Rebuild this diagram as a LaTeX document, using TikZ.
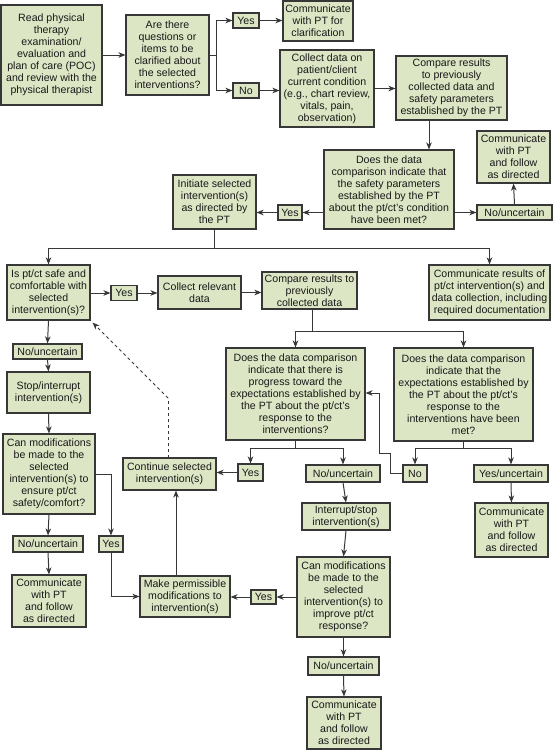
\documentclass[tikz,border=0pt]{standalone}
\usepackage{fontspec}
\setmainfont{Liberation Sans}
\usetikzlibrary{arrows.meta,calc}
\definecolor{boxfill}{RGB}{220,230,196}
\definecolor{linecol}{RGB}{55,55,55}
\tikzset{
  box/.style={draw=linecol, line width=1.1pt, fill=boxfill, inner sep=0pt, align=center,
    font=\fontsize{10.6}{12}\selectfont, text=black!90},
  arr/.style={draw=linecol, line width=1pt, -{Stealth[length=7pt,width=5.5pt,inset=2pt]}},
  ln/.style={draw=linecol, line width=1pt},
}
\newcommand{\bx}[6]{\node[box, minimum width=#4pt, minimum height=#5pt] (#1) at (#2,#3) {#6};}
\begin{document}
\begin{tikzpicture}[x=1pt,y=-1pt]
\useasboundingbox (0,0) rectangle (553,750);
% top row
\bx{read}{51.5}{55}{101}{100}{Read physical\\therapy\\examination/\\evaluation and\\plan of care (POC)\\and review with the\\physical therapist}
\bx{q1}{167.5}{55}{83}{80}{Are there\\questions or\\items to be\\clarified about\\the selected\\interventions?}
\bx{yes1}{246}{20.5}{26}{15}{Yes}
\bx{no1}{246}{90.5}{26}{15}{No}
\bx{commclar}{318}{21}{70}{40}{Communicate\\with PT for\\clarification}
\bx{collect}{327}{88.5}{94}{77}{Collect data on\\patient/client\\current condition\\(e.g., chart review,\\vitals, pain,\\observation)}
\bx{compare1}{451.5}{88}{111}{64}{Compare results\\to previously\\collected data and\\safety parameters\\established by the PT}
\bx{safety}{389}{189.5}{130}{79}{Does the data\\comparison indicate that\\the safety parameters\\established by the PT\\about the pt/ct's condition\\have been met?}
\bx{comm1}{513.5}{157}{73}{52}{Communicate\\with PT\\and follow\\as directed}
\bx{nounc1}{514.5}{212.5}{75}{15}{No/uncertain}
\bx{yes2}{290}{212.5}{24}{15}{Yes}
\bx{initiate}{214.5}{202}{83}{54}{Initiate selected\\intervention(s)\\as directed by\\the PT}
% middle
\bx{safe}{48.5}{292.5}{83}{55}{Is pt/ct safe and\\comfortable with\\selected\\intervention(s)?}
\bx{yes3}{124}{293}{26}{15}{Yes}
\bx{collrel}{199.5}{292.5}{83}{33}{Collect relevant\\data}
\bx{compare2}{309.5}{290.5}{95}{37}{Compare results to\\previously\\collected data}
\bx{commres}{489.5}{292.5}{121}{55}{Communicate results of\\pt/ct intervention(s) and\\data collection, including\\required documentation}
\bx{nounc2}{47.5}{351.5}{69}{15}{No/uncertain}
\bx{stop}{48.5}{392.5}{83}{41}{Stop/interrupt\\intervention(s)}
\bx{canmodA}{49}{474}{92}{80}{Can modifications\\be made to the\\selected\\intervention(s) to\\ensure pt/ct\\safety/comfort?}
\bx{nounc3}{48}{544}{70}{16}{No/uncertain}
\bx{yes4}{111}{544}{24}{16}{Yes}
\bx{comm3}{49}{601}{74}{52}{Communicate\\with PT\\and follow\\as directed}
\bx{progress}{295.5}{394}{139}{92}{Does the data comparison\\indicate that there is\\progress toward the\\expectations established by\\the PT about the pt/ct's\\response to the\\interventions?}
\bx{met}{463.5}{394.5}{139}{93}{Does the data comparison\\indicate that the\\expectations established by\\the PT about the pt/ct's\\response to the\\interventions have been\\met?}
\bx{yes5}{250.5}{472.5}{25}{17}{Yes}
\bx{continue}{169.5}{474}{93}{32}{Continue selected\\intervention(s)}
\bx{nounc4}{343}{473.5}{74}{17}{No/uncertain}
\bx{no2}{415}{473.5}{24}{17}{No}
\bx{yesunc}{511}{473.5}{74}{17}{Yes/uncertain}
\bx{comm4}{511.5}{530}{73}{54}{Communicate\\with PT\\and follow\\as directed}
\bx{interrupt}{346}{516.5}{88}{27}{Interrupt/stop\\intervention(s)}
\bx{canmodB}{343.5}{597}{93}{80}{Can modifications\\be made to the\\selected\\intervention(s) to\\improve pt/ct\\response?}
\bx{yes6}{263.5}{597}{25}{14}{Yes}
\bx{make}{185}{596.5}{90}{41}{Make permissible\\modifications to\\intervention(s)}
\bx{nounc5}{343.5}{666}{71}{18}{No/uncertain}
\bx{comm5}{344}{723}{74}{52}{Communicate\\with PT\\and follow\\as directed}

% connectors top
\draw[arr] (read.east) -- (q1.west);
\coordinate (b1) at (216,55);
\draw[ln] (q1.east) -- (b1);
\draw[arr] (b1) |- (yes1.west);
\draw[arr] (b1) |- (no1.west);
\draw[arr] (yes1.east) -- (yes1.east -| commclar.west);
\draw[arr] (no1.east) -- (no1.east -| collect.west);
\draw[arr] (collect.east) -- (collect.east -| compare1.west);
\draw[arr] ([xshift=-22.5pt]compare1.south) -- ([xshift=-22.5pt]compare1.south |- safety.north);
\draw[arr] (nounc1.west -| safety.east) -- (nounc1.west);
\draw[arr] (nounc1.north) -- (comm1.south);
\draw[arr] (yes2.east -| safety.west) -- (yes2.east);
\draw[arr] (yes2.west) -- (yes2.west -| initiate.east);
\coordinate (b2) at (214.5,248);
\draw[ln] (initiate.south) -- (b2);
\draw[arr] (b2) -| (safe.north);
\draw[arr] (b2) -| (commres.north);
% middle
\draw[arr] (safe.east |- yes3.west) -- (yes3.west);
\draw[arr] (yes3.east) -- (yes3.east -| collrel.west);
\draw[arr] (collrel.east) -- (collrel.east -| compare2.west);
\draw[arr] (safe.south) -- (nounc2.north);
\draw[arr] (nounc2.south) -- (stop.north);
\draw[arr] (stop.south) -- (canmodA.north);
\draw[arr] (canmodA.south) -- (nounc3.north);
\draw[arr] (nounc3.south) -- (comm3.north);
\draw[arr] (canmodA.east) -| (yes4.north);
\draw[arr] (yes4.south) |- (make.west);
\coordinate (b3) at (312,331);
\draw[ln] (312,309) -- (b3);
\draw[arr] (b3) -| (progress.north);
\draw[arr] (b3) -| (met.north);
\coordinate (b4) at (295.5,448);
\draw[ln] (progress.south) -- (b4);
\draw[arr] (b4) -| (yes5.north);
\draw[arr] (b4) -| (nounc4.north);
\draw[arr] (yes5.west) -- (yes5.west -| continue.east);
\coordinate (d1) at (168,398);
\draw[ln, dashed] (168,458) -- (d1);
\draw[arr, dashed] (d1) -- ([shift={(2pt,-2pt)}]safe.south east);
\draw[arr] (nounc4.south) -- (interrupt.north);
\draw[arr] (interrupt.south) -- (canmodB.north);
\draw[arr] (canmodB.south) -- (nounc5.north);
\draw[arr] (nounc5.south) -- (comm5.north);
\draw[arr] (canmodB.west |- yes6.east) -- (yes6.east);
\draw[arr] (yes6.west) -- (yes6.west -| make.east);
\draw[arr] ([xshift=-9pt]make.north) -- ([xshift=-9pt]make.north |- continue.south);
\coordinate (b5) at (463.5,448);
\draw[ln] (met.south) -- (b5);
\draw[arr] (b5) -| (no2.north);
\draw[arr] (b5) -| (yesunc.north);
\draw[arr] (yesunc.south) -- (comm4.north);
\coordinate (r1) at (379,393);
\draw[arr] (no2.west) -- (390,473.5) -- (390,453) -- (379,453) -- (r1) -- (r1 -| progress.east);
\end{tikzpicture}
\end{document}
